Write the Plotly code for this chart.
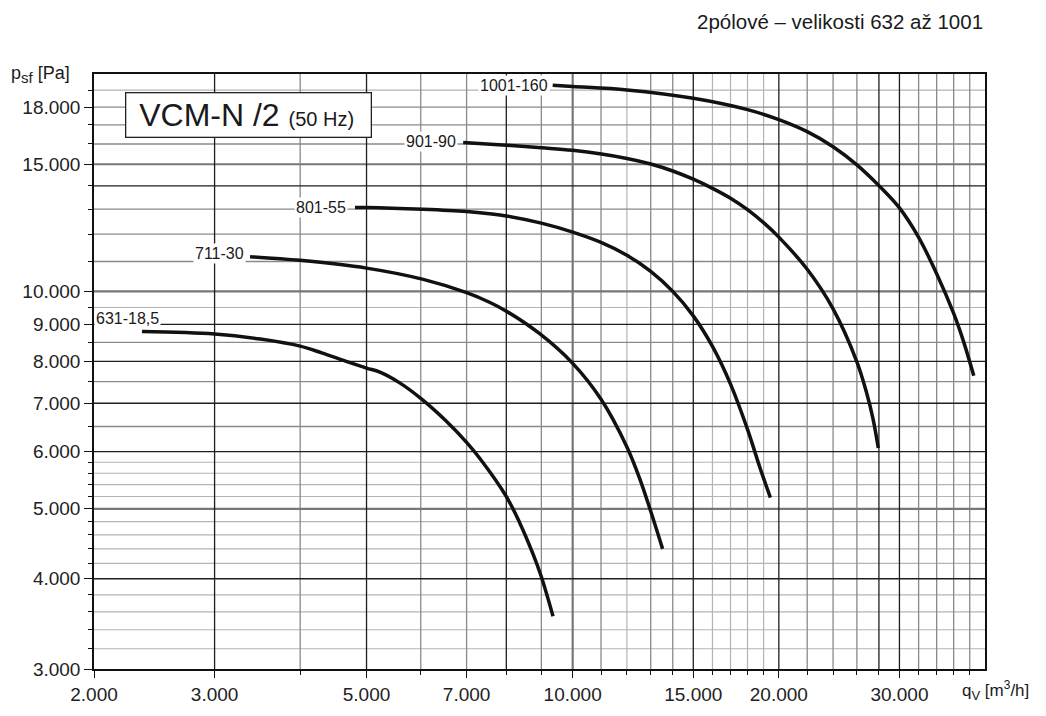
import math
import plotly.graph_objects as go

# ---- data ----
curve_names = ["631-18,5", "711-30", "801-55", "901-90", "1001-160"]

q_631 = [2350, 3000, 3500, 4000, 4300, 4670, 5000, 5230, 5590, 6000, 6540, 7000, 7320, 8000, 8370, 8750, 9000, 9360]
p_631 = [8800, 8730, 8590, 8400, 8220, 8000, 7830, 7730, 7470, 7110, 6610, 6180, 5870, 5200, 4780, 4330, 4025, 3550]

q_711 = [3380, 4000, 5000, 6050, 7000, 7560, 8000, 8960, 10000, 11000, 12000, 12550, 13000, 13530]
p_711 = [11170, 11040, 10770, 10390, 9960, 9660, 9390, 8730, 7950, 7090, 6090, 5480, 4960, 4400]

q_801 = [4810, 5000, 6050, 7000, 7560, 8000, 9000, 10000, 11000, 12000, 13000, 14000, 15000, 16000, 17000, 18000, 18770, 19440]
p_801 = [13070, 13070, 12995, 12900, 12810, 12720, 12430, 12080, 11690, 11220, 10660, 10000, 9250, 8390, 7440, 6440, 5700, 5180]

q_901 = [6920, 8000, 9000, 10000, 12000, 13000, 14000, 15000, 16000, 17000, 18000, 19000, 20000, 22000, 24000, 26000, 26840, 27450, 27940]
p_901 = [16080, 15940, 15810, 15680, 15280, 15010, 14680, 14300, 13890, 13460, 12980, 12450, 11890, 10730, 9460, 7990, 7260, 6660, 6070]

q_1001 = [9350, 10000, 12000, 15000, 18000, 20000, 22000, 24000, 26000, 28000, 30000, 32000, 34000, 36000, 37190, 38520]
p_1001 = [19300, 19220, 19010, 18510, 17850, 17290, 16640, 15860, 14970, 14010, 13050, 11880, 10580, 9320, 8540, 7640]

x_tick_vals = [2000, 3000, 5000, 7000, 10000, 15000, 20000, 30000]
x_tick_text = ["2.000", "3.000", "5.000", "7.000", "10.000", "15.000", "20.000", "30.000"]
y_tick_vals = [3000, 4000, 5000, 6000, 7000, 8000, 9000, 10000, 15000, 18000]
y_tick_text = ["3.000", "4.000", "5.000", "6.000", "7.000", "8.000", "9.000", "10.000", "15.000", "18.000"]

# grid lines grouped by appearance
x_grid_dark = [3000, 5000, 8000, 15000, 20000, 28000, 30000]
x_grid_thick = [10000]
x_grid_mid = [4000, 6000, 7000, 9000, 11000, 13000, 14000, 22000, 24000, 26000, 32000, 34000, 36000, 38000]
x_grid_light = [12000, 16000, 17000, 18000, 19000]

y_grid_dark = [4000, 6000, 7000, 8000, 9000, 14000]
y_grid_thick = [5000, 10000, 15000]
y_grid_mid = [6500, 7500, 8500, 11000, 12000, 13000, 16000, 17000, 18000]
y_grid_light = [3200, 3400, 3600, 3800, 4200, 4400, 4600, 4800, 5200, 5400, 5600, 5800, 9500, 19000]

x_range = [2000, 40000]
y_range = [3000, 20000]

# ---- figure ----
FONT = "Liberation Sans, Arial, sans-serif"
curves = [(q_631, p_631), (q_711, p_711), (q_801, p_801), (q_901, p_901), (q_1001, p_1001)]
label_style = {
    "631-18,5": dict(xanchor="right", xshift=19, yshift=13),
    "711-30": dict(xanchor="right", xshift=-4, yshift=3),
    "801-55": dict(xanchor="right", xshift=-7, yshift=0),
    "901-90": dict(xanchor="right", xshift=-5, yshift=1),
    "1001-160": dict(xanchor="right", xshift=-3, yshift=0),
}

fig = go.Figure()
for name, (qx, py) in zip(curve_names, curves):
    fig.add_trace(go.Scatter(
        x=qx, y=py, mode="lines", name=name,
        line=dict(color="#111111", width=3.5, shape="spline", smoothing=1.0),
        showlegend=False, hoverinfo="x+y+name",
    ))

shapes = []
def vlines(vals, color, width):
    for v in vals:
        shapes.append(dict(type="line", xref="x", yref="paper", x0=v, x1=v, y0=0, y1=1,
                           line=dict(color=color, width=width), layer="below"))
def hlines(vals, color, width):
    for v in vals:
        shapes.append(dict(type="line", xref="paper", yref="y", x0=0, x1=1, y0=v, y1=v,
                           line=dict(color=color, width=width), layer="below"))

vlines(x_grid_light, "#b4b4b4", 1.2)
hlines(y_grid_light, "#b4b4b4", 1.2)
vlines(x_grid_mid, "#8a8a8a", 1.3)
hlines(y_grid_mid, "#8a8a8a", 1.3)
vlines(x_grid_thick, "#777777", 2.2)
hlines(y_grid_thick, "#777777", 2.2)
vlines(x_grid_dark, "#1e1e1e", 1.3)
hlines(y_grid_dark, "#1e1e1e", 1.3)

annotations = []
for name, (qx, py) in zip(curve_names, curves):
    st = label_style[name]
    annotations.append(dict(
        x=math.log10(qx[0]), y=math.log10(py[0]), xref="x", yref="y",
        text=name, showarrow=False, xanchor=st["xanchor"], yanchor="middle",
        xshift=st["xshift"], yshift=st["yshift"],
        font=dict(family=FONT, size=16, color="#1a1a1a"),
        bgcolor="white", borderpad=1,
    ))

annotations.append(dict(
    x=0.0348, y=0.9697, xref="paper", yref="paper", xanchor="left", yanchor="top",
    text="&nbsp;VCM-N /2 <span style='font-size:20px'>(50 Hz)</span>",
    showarrow=False, align="left", width=236, height=35,
    font=dict(family=FONT, size=32, color="#1a1a1a"),
    bgcolor="white", bordercolor="#222222", borderwidth=1.3, borderpad=4,
))
annotations.append(dict(
    x=0, y=1, xref="paper", yref="paper", xanchor="right", yanchor="middle",
    xshift=-22, text="p<sub><span style='font-size:15px'>sf</span></sub> [Pa]", showarrow=False,
    font=dict(family=FONT, size=18, color="#1a1a1a"),
))
annotations.append(dict(
    x=0.972, y=0, xref="paper", yref="paper", xanchor="left", yanchor="middle",
    yshift=-21, text="q<sub><span style='font-size:13px'>V</span></sub> [m<sup>3</sup>/h]", showarrow=False,
    font=dict(family=FONT, size=17, color="#1a1a1a"),
))
annotations.append(dict(
    x=1, y=1, xref="paper", yref="paper", xanchor="right", yanchor="middle",
    yshift=53, text="2pólové – velikosti 632 až 1001", showarrow=False,
    font=dict(family=FONT, size=20.5, color="#1a1a1a"),
))

all_x_grid = sorted(x_grid_dark + x_grid_thick + x_grid_mid + x_grid_light)
all_y_grid = sorted(y_grid_dark + y_grid_thick + y_grid_mid + y_grid_light)

axis_font = dict(family=FONT, size=19, color="#222222")
fig.update_layout(
    width=1046, height=716, autosize=False,
    margin=dict(l=94, r=61, t=74, b=47),
    paper_bgcolor="white", plot_bgcolor="white",
    shapes=shapes, annotations=annotations,
    xaxis=dict(
        type="log", range=[math.log10(x_range[0]), math.log10(x_range[1])],
        tickmode="array", tickvals=x_tick_vals, ticktext=x_tick_text,
        ticks="outside", ticklen=7, tickwidth=1.2, tickcolor="#111",
        showgrid=False, zeroline=False,
        showline=True, mirror=True, linecolor="#111", linewidth=1.5,
        tickfont=axis_font,
        minor=dict(tickmode="array", tickvals=all_x_grid, ticks="outside", ticklen=4,
                   tickwidth=1, tickcolor="#111", showgrid=False),
    ),
    yaxis=dict(
        type="log", range=[math.log10(y_range[0]), math.log10(y_range[1])],
        tickmode="array", tickvals=y_tick_vals, ticktext=y_tick_text,
        ticks="outside", ticklen=8, tickwidth=1.2, tickcolor="#111",
        showgrid=False, zeroline=False,
        showline=True, mirror=True, linecolor="#111", linewidth=1.5,
        tickfont=axis_font,
        minor=dict(tickmode="array", tickvals=all_y_grid, ticks="outside", ticklen=4,
                   tickwidth=1, tickcolor="#111", showgrid=False),
    ),
)

fig.write_html(
    "out.html",
    config={"displayModeBar": False},
    post_script="document.body.style.margin='0px';document.body.style.overflow='hidden';",
)
